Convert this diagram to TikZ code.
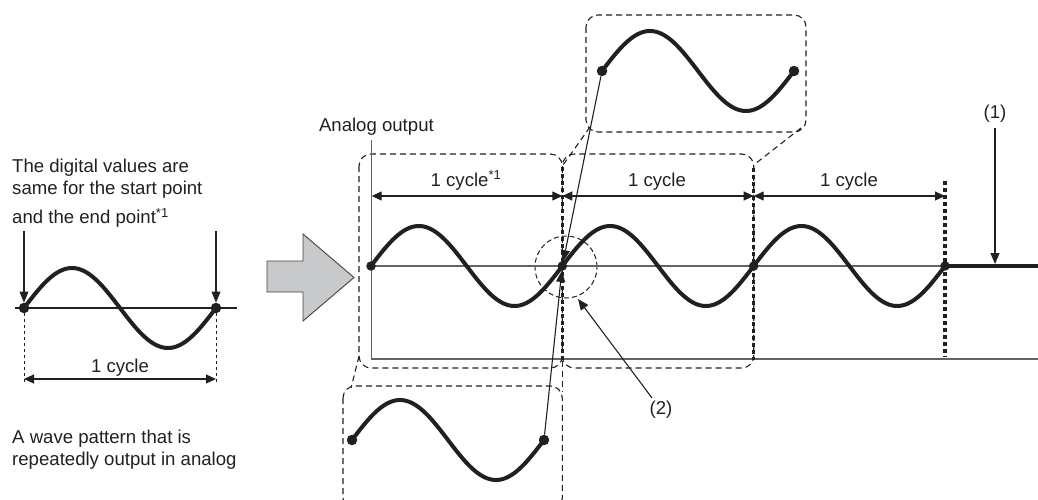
\documentclass[tikz,border=0pt]{standalone}
\usepackage{fontspec}
\setmainfont{Liberation Sans}
\usetikzlibrary{arrows.meta}
\definecolor{ink}{RGB}{35,31,32}
\definecolor{axisgray}{RGB}{100,100,100}
\definecolor{arrowfill}{RGB}{200,201,202}
\begin{document}
\begin{tikzpicture}[x=1pt,y=-1pt,
  txt/.style={font=\fontsize{18.6}{22.3}\selectfont, text=ink, inner sep=0pt},
  wave/.style={draw=ink, line width=4pt, line cap=round},
  dot/.style={circle, fill=ink, inner sep=0pt, minimum size=10.5pt},
  boxd/.style={draw=ink, line width=1.1pt, dash pattern=on 6pt off 4pt, rounded corners=12pt},
  linkd/.style={draw=ink, line width=1.1pt, dash pattern=on 6pt off 4pt},
  period/.style={draw=ink, line width=3.3pt, dash pattern=on 4pt off 3pt},
  axisl/.style={draw=axisgray, line width=1.5pt},
  guide/.style={draw=ink, line width=1pt, dash pattern=on 3pt off 3pt},
  dim/.style={draw=ink, line width=1.1pt, {Triangle[length=10pt,width=9pt]}-{Triangle[length=10pt,width=9pt]}},
  conn/.style={draw=ink, line width=1.1pt, -{Triangle[length=11pt,width=9pt]}},
]
\useasboundingbox (0,0) rectangle (1038,500);
\clip (0,0) rectangle (1038,500);

% ---------- left: single pattern ----------
\node[txt, anchor=north west, align=left] (note) at (12,159)
  {The digital values are\\same for the start point\\[6.2pt]and the end point\textsuperscript{*1}};
\draw[draw=ink, line width=1.1pt] (15,308) coordinate (lax0) -- (237,308) coordinate (lax1);
\draw[wave] plot[domain=0:1, samples=90, smooth] ({24+192*\x},{308-40*sin(360*\x)});
\node[dot] (ls) at (24,308) {};
\node[dot] (le) at (216,308) {};
\coordinate (lsa) at (24,231);
\coordinate (lea) at (216,231);
\draw[conn] (lsa) -- (ls);
\draw[conn] (lea) -- (le);
\coordinate (lsb) at (24,382);
\coordinate (leb) at (216,382);
\draw[guide] (ls) -- (lsb);
\draw[guide] (le) -- (leb);
\coordinate (lda) at (24,379);
\coordinate (ldb) at (216,379);
\draw[dim] (lda) -- (ldb);
\node[txt, anchor=base] (lcyc) at (120,372) {1 cycle};
\node[txt, anchor=north west, align=left] (pattern) at (12,430)
  {A wave pattern that is\\repeatedly output in analog};

% ---------- big arrow ----------
\draw[fill=arrowfill, draw=ink!85, line width=0.9pt]
  (267,261) -- (303,261) -- (303,234) -- (354,277.5) -- (303,321) -- (303,292) -- (267,292) -- cycle;

% ---------- dashed boxes ----------
\draw[boxd] (359,154) rectangle (562.3,368);
\draw[boxd] (562.3,154) rectangle (753.7,368);
\draw[boxd] (586,15) rectangle (806,132);
\draw[boxd] (343,386) rectangle (562.3,510);
\draw[linkd] (590,127) -- (562.3,166);
\draw[linkd] (801,128) -- (753.7,165);
\draw[linkd] (359,356) -- (351,388);
\draw[linkd] (562.3,361) -- (562.3,392);
\draw[draw=ink, line width=1pt, dash pattern=on 5pt off 3pt] (566,267) circle[radius=31pt];

% ---------- axes ----------
\coordinate (ytop) at (371.7,140);
\coordinate (orig) at (371.7,359);
\coordinate (xend) at (1038,359);
\draw[axisl] (ytop) -- (orig) -- (xend);
\draw[axisl] (371,266) -- (945,266);
\node[txt, anchor=base east] (aout) at (434,131.7) {Analog output};

% ---------- main wave ----------
\draw[wave] plot[domain=0:3, samples=240, smooth] ({371+191.33*\x},{266-40*sin(360*\x)});
\coordinate (hold) at (1038,266);
\draw[draw=ink, line width=3.8pt] (945,266) -- (hold);

% period boundaries
\draw[period] (562.3,167) -- (562.3,360);
\draw[period] (753.7,168) -- (753.7,360);
\draw[period] (945,181) -- (945,357);

% cycle dimensions
\coordinate (c0) at (371.7,196);
\coordinate (c1) at (562.3,196);
\coordinate (c2) at (753.7,196);
\coordinate (c3) at (945,196);
\draw[dim] (c0) -- (c1);
\draw[dim] (c1) -- (c2);
\draw[dim] (c2) -- (c3);
\node[txt, anchor=base] (cy1) at (466,186) {1 cycle\textsuperscript{*1}};
\node[txt, anchor=base] (cy2) at (657,186) {1 cycle};
\node[txt, anchor=base] (cy3) at (849,186) {1 cycle};

% dots on the main wave
\node[dot, minimum size=9.5pt] (m1) at (371,266) {};
\node[dot, minimum size=9.5pt] (m2) at (562.3,266) {};
\node[dot, minimum size=9.5pt] (m3) at (753.7,266) {};
\node[dot, minimum size=9.5pt] (m4) at (945,266) {};

% ---------- top callout ----------
\draw[wave] plot[domain=0:1, samples=90, smooth] ({602+192*\x},{71-40*sin(360*\x)});
\node[dot] (ts) at (602,71) {};
\node[dot] (te) at (794,71) {};

% ---------- bottom callout ----------
\draw[wave] plot[domain=0:1, samples=90, smooth] ({352+192*\x},{440-40*sin(360*\x)});
\node[dot] (bs) at (352,440) {};
\node[dot] (be) at (544,440) {};

\draw[conn] (ts) -- (m2);
\draw[conn] (be) -- (m2);

% ---------- labels (1), (2) ----------
\node[txt, anchor=base] (lab1) at (995,118) {(1)};
\coordinate (o1) at (995,264);
\draw[conn, shorten <=6pt] (lab1) -- (o1);
\node[txt] (lab2) at (661,410) {(2)};
\coordinate (o2) at (578,299);
\draw[conn, shorten <=4pt] (lab2) -- (o2);
\end{tikzpicture}
\end{document}
